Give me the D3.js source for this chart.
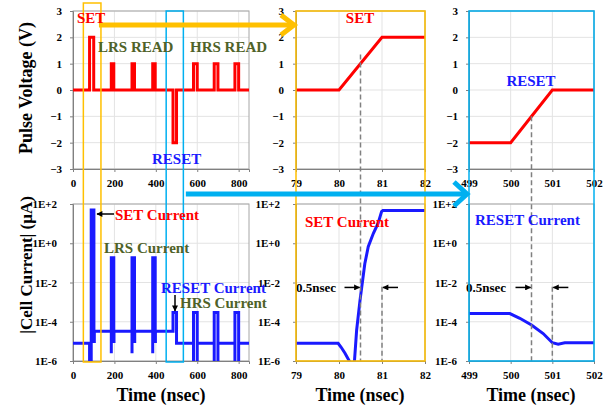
<!DOCTYPE html>
<html>
<head>
<meta charset="utf-8">
<script src="https://cdn.jsdelivr.net/npm/d3@7"></script>
<style>
  body { margin: 0; background: #fff; }
  text { font-family: "Liberation Serif", "Times New Roman", serif; font-weight: bold; }
</style>
</head>
<body>
<svg id="chart"></svg>
<script>
// ---- data ----
const overviewTicks = [0, 200, 400, 600, 800];
const setZoomTicks = [79, 80, 81, 82];
const resetZoomTicks = [499, 500, 501, 502];
const voltTicks = [-3, -2, -1, 0, 1, 2, 3];
const currTicks = [1e2, 1e0, 1e-2, 1e-4, 1e-6];
const currTickLabels = ["1E+2", "1E+0", "1E-2", "1E-4", "1E-6"];

// [time (ns), voltage (V)]
const overviewVoltage = [
  [0, 0], [80, 0], [80, 2], [100, 2], [100, 0],
  [185, 0], [185, 1], [197, 1], [197, 0],
  [285, 0], [285, 1], [297, 1], [297, 0],
  [385, 0], [385, 1], [397, 1], [397, 0],
  [483, 0], [483, -2], [500, -2], [500, 0],
  [582, 0], [582, 1], [600, 1], [600, 0],
  [682, 0], [682, 1], [700, 1], [700, 0],
  [782, 0], [782, 1], [800, 1], [800, 0], [850, 0]
];
// [time (ns), |current| (uA)]
const overviewCurrent = [
  [0, 8e-6], [80, 8e-6], [80, 1e-7], [88, 1e-7], [88, 50], [101, 50], [101, 1e-5], [103, 1e-5], [103, 3.3e-5],
  [185, 3.3e-5], [185, 2.5e-6], [185, 0.18], [197, 0.18], [197, 1e-5], [198, 1e-5], [198, 3.3e-5],
  [285, 3.3e-5], [285, 2.5e-6], [285, 0.18], [297, 0.18], [297, 1e-5], [298, 1e-5], [298, 3.3e-5],
  [385, 3.3e-5], [385, 2.5e-6], [385, 0.18], [397, 0.18], [397, 1e-5], [398, 1e-5], [398, 3.3e-5],
  [483, 3.3e-5], [483, 3e-4], [500, 3e-4], [500, 8e-6],
  [582, 8e-6], [582, 1e-7], [582, 3e-4], [600, 3e-4], [600, 1e-7], [600, 8e-6],
  [682, 8e-6], [682, 1e-7], [682, 3e-4], [700, 3e-4], [700, 1e-7], [700, 8e-6],
  [782, 8e-6], [782, 1e-7], [782, 3e-4], [800, 3e-4], [800, 1e-7], [800, 8e-6], [850, 8e-6]
];
const setVoltage = [[79, 0], [80, 0], [81, 2], [82, 2]];
const setCurrent = [
  [79, 8e-6], [79.98, 8e-6], [80.05, 5e-6], [80.14, 2.5e-6], [80.24, 1e-6], [80.28, 5e-7],
  [80.35, 5e-7], [80.41, 3.7e-5], [80.49, 1.3e-3], [80.53, 6e-3], [80.6, 9e-2],
  [80.68, 0.66], [80.8, 3.2], [80.91, 10.5], [80.99, 41], [81.02, 46], [82, 46]
];
const resetVoltage = [[499, -2], [500, -2], [501, 0], [502, 0]];
const resetCurrent = [
  [499, 2.6e-4], [499.98, 2.6e-4], [500.22, 1.5e-4], [500.5, 6.8e-5],
  [500.78, 2.5e-5], [501, 8.5e-6], [501.14, 7.2e-6], [501.3, 8.5e-6], [502, 8.5e-6]
];
// dashed guides: [time, top value on voltage (V) or current (uA) axis]
const setGuides = [{t: 80.5, v: 1.35}, {t: 81, i: 6e-3}];
const resetGuides = [{t: 500.5, v: -1}, {t: 501, i: 6e-3}];

// ---- layout ----
const width = 613, height = 408;
const colL = [73, 249], colM = [296, 425], colR = [469, 594];
const rowT = [11, 169], rowB = [204, 361];
const red = "#ff0000", blue = "#1a1aff", green = "#4f6228";
const orange = "#ffc000", sky = "#00b0f0";
const serif = '"Liberation Serif", "Times New Roman", serif';

const svg = d3.select("#chart")
    .attr("width", width)
    .attr("height", height)
    .attr("viewBox", [0, 0, width, height]);

const defs = svg.append("defs");
defs.append("marker")
    .attr("id", "head")
    .attr("viewBox", "0 0 10 10")
    .attr("refX", 9).attr("refY", 5)
    .attr("markerWidth", 7).attr("markerHeight", 6)
    .attr("markerUnits", "userSpaceOnUse")
    .attr("orient", "auto")
  .append("path")
    .attr("d", "M0,0L10,5L0,10z")
    .attr("fill", "#000");

const xAll = d3.scaleLinear().domain([0, 850]).range(colL);
const xSet = d3.scaleLinear().domain([79, 82]).range(colM);
const xRst = d3.scaleLinear().domain([499, 502]).range(colR);
const yV = d3.scaleLinear().domain([-3, 3]).range([rowT[1], rowT[0]]);
const yI = d3.scaleLog().domain([1e-6, 1e2]).range([rowB[1], rowB[0]]);

let clipN = 0;
function panel(x, y, xticks, yticks, yfmt, ypad) {
  const [x0, x1] = x.range();
  const [y1, y0] = y.range();
  const g = svg.append("g");
  // grid
  g.append("g").selectAll("line").data(xticks).join("line")
      .attr("x1", d => x(d)).attr("x2", d => x(d))
      .attr("y1", y0).attr("y2", y1)
      .attr("stroke", "#e3e3e3");
  g.append("g").selectAll("line").data(yticks).join("line")
      .attr("x1", x0).attr("x2", x1)
      .attr("y1", d => y(d)).attr("y2", d => y(d))
      .attr("stroke", "#e3e3e3");
  g.append("rect")
      .attr("x", x0).attr("y", y0)
      .attr("width", x1 - x0).attr("height", y1 - y0)
      .attr("fill", "none").attr("stroke", "#a6a6a6");
  // axes
  g.append("g")
      .attr("transform", `translate(${x0},0)`)
      .attr("font-family", serif).attr("font-size", 11)
      .call(d3.axisLeft(y).tickValues(yticks).tickSize(3).tickPadding(ypad).tickFormat(yfmt))
      .attr("font-family", serif).attr("font-size", 11)
      .call(a => a.select(".domain").attr("stroke", "#808080"))
      .call(a => a.selectAll(".tick line").attr("stroke", "#808080"))
      .call(a => a.selectAll("text").attr("fill", "#000"));
  g.append("g")
      .attr("transform", `translate(0,${y1})`)
      .call(d3.axisBottom(x).tickValues(xticks).tickSize(3).tickPadding(7).tickFormat(d3.format("d")))
      .attr("font-family", serif).attr("font-size", 11)
      .call(a => a.select(".domain").attr("stroke", "#808080"))
      .call(a => a.selectAll(".tick line").attr("stroke", "#808080"))
      .call(a => a.selectAll("text").attr("fill", "#000"));
  const id = "clip" + (clipN++);
  defs.append("clipPath").attr("id", id)
    .append("rect").attr("x", x0).attr("y", y0).attr("width", x1 - x0).attr("height", y1 - y0);
  return g.append("g").attr("clip-path", `url(#${id})`);
}

function trace(g, x, y, data, color, isLog) {
  g.append("path")
      .datum(data)
      .attr("fill", "none")
      .attr("stroke", color)
      .attr("stroke-width", 3)
      .attr("stroke-linejoin", "miter")
      .attr("d", d3.line().x(d => x(d[0])).y(d => y(isLog ? Math.max(d[1], 1e-9) : d[1])));
}

const fmtV = d3.format("d");
const fmtI = d => currTickLabels[currTicks.indexOf(d)];

const pVA = panel(xAll, yV, overviewTicks, voltTicks, fmtV, 8);
const pIA = panel(xAll, yI, overviewTicks, currTicks, fmtI, 13);
const pVS = panel(xSet, yV, setZoomTicks, voltTicks, fmtV, 9);
const pIS = panel(xSet, yI, setZoomTicks, currTicks, fmtI, 13);
const pVR = panel(xRst, yV, resetZoomTicks, voltTicks, fmtV, 8);
const pIR = panel(xRst, yI, resetZoomTicks, currTicks, fmtI, 9);

trace(pVA, xAll, yV, overviewVoltage, red, false);
trace(pIA, xAll, yI, overviewCurrent, blue, true);
trace(pVS, xSet, yV, setVoltage, red, false);
trace(pIS, xSet, yI, setCurrent, blue, true);
trace(pVR, xRst, yV, resetVoltage, red, false);
trace(pIR, xRst, yI, resetCurrent, blue, true);

// dashed guides
function guides(x, list) {
  svg.append("g").selectAll("line").data(list).join("line")
      .attr("x1", d => x(d.t)).attr("x2", d => x(d.t))
      .attr("y1", d => d.v !== undefined ? yV(d.v) : yI(d.i))
      .attr("y2", rowB[1])
      .attr("stroke", "#808080")
      .attr("stroke-width", 1.5)
      .attr("stroke-dasharray", "5,3");
}
guides(xSet, setGuides);
guides(xRst, resetGuides);

// 0.5nsec arrows
function pulseWidth(x, list, textX) {
  const yy = yI(5.6e-3);
  const a = x(list[0].t), b = x(list[1].t);
  const g = svg.append("g");
  g.append("line").attr("x1", a - 16).attr("x2", a - 1).attr("y1", yy).attr("y2", yy)
      .attr("stroke", "#000").attr("stroke-width", 1.5).attr("marker-end", "url(#head)");
  g.append("line").attr("x1", b + 16).attr("x2", b + 1).attr("y1", yy).attr("y2", yy)
      .attr("stroke", "#000").attr("stroke-width", 1.5).attr("marker-end", "url(#head)");
  g.append("text").attr("x", textX).attr("y", yy + 4.5).attr("font-size", 13).text("0.5nsec");
}
pulseWidth(xSet, setGuides, 296);
pulseWidth(xRst, resetGuides, 466);

// highlight boxes
function box(x0, y0, x1, y1, color) {
  svg.append("rect").attr("x", x0).attr("y", y0).attr("width", x1 - x0).attr("height", y1 - y0)
      .attr("fill", "none").attr("stroke", color).attr("stroke-width", 1.5);
}
box(xAll(50), 3, xAll(135), rowB[1] + 1, orange);
box(xAll(450), rowT[0], xAll(533), rowB[1] + 1, sky);
box(colM[0], rowT[0], colM[1], rowB[1], orange);
box(colR[0], rowT[0], colR[1], rowB[1], sky);

// big arrows
function bigArrow(xa, xb, y, color, hw) {
  const g = svg.append("g").attr("stroke", color).attr("stroke-width", 5).attr("fill", "none");
  g.append("line").attr("x1", xa).attr("x2", xb - 3).attr("y1", y).attr("y2", y);
  g.append("polyline").attr("points", [[xb - 15, y - hw], [xb - 2, y], [xb - 15, y + hw]].join(" "))
      .attr("stroke-linejoin", "miter");
}
bigArrow(xAll(135) - 2, colM[0], 25, orange, 10);
bigArrow(xAll(545), colR[0], 194, sky, 12);

// labels
function label(x, y, txt, color, size, anchor) {
  svg.append("text").attr("x", x).attr("y", y).attr("fill", color)
      .attr("font-size", size).attr("text-anchor", anchor || "start").text(txt);
}
label(77, 23, "SET", red, 15);
label(98, 52, "LRS READ", green, 15);
label(190, 52, "HRS READ", green, 15);
label(152, 164, "RESET", blue, 15);
label(115, 220, "SET Current", red, 15);
label(104, 253, "LRS Current", green, 15);
label(161, 293, "RESET Current", blue, 15);
label(180, 308, "HRS Current", green, 15);
label(360, 23, "SET", red, 15, "middle");
label(305, 227, "SET Current", red, 15);
label(531, 86, "RESET", blue, 15, "middle");
label(475, 225, "RESET Current", blue, 15);

svg.append("line").attr("x1", 114).attr("x2", 97).attr("y1", 214).attr("y2", 214)
    .attr("stroke", "#000").attr("stroke-width", 1.5).attr("marker-end", "url(#head)");
svg.append("line").attr("x1", 175).attr("x2", 175).attr("y1", 295).attr("y2", 311)
    .attr("stroke", "#000").attr("stroke-width", 1.5).attr("marker-end", "url(#head)");

// axis titles
label(161, 401, "Time (nsec)", "#000", 18, "middle");
label(360, 401, "Time (nsec)", "#000", 18, "middle");
label(531, 401, "Time (nsec)", "#000", 18, "middle");
svg.append("text").attr("transform", "translate(32,88) rotate(-90)")
    .attr("text-anchor", "middle").attr("font-size", 18).text("Pulse Voltage (V)");
svg.append("text").attr("transform", "translate(32,265) rotate(-90)")
    .attr("text-anchor", "middle").attr("font-size", 17).text("|Cell Current| (μA)");
</script>
</body>
</html>
